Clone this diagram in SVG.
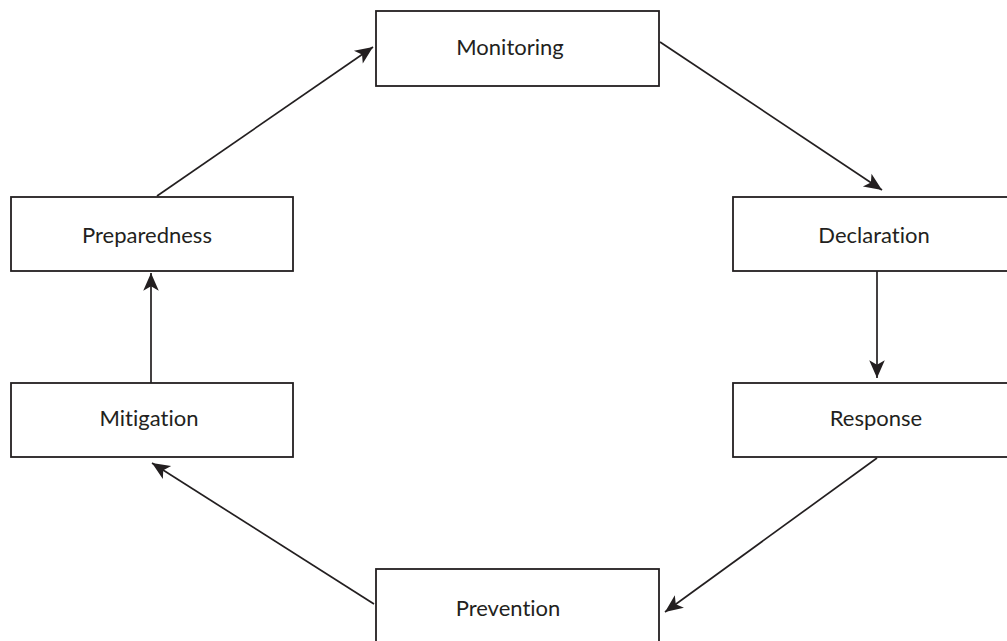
<svg xmlns="http://www.w3.org/2000/svg" width="1007" height="641" viewBox="0 0 1007 641">
<style>
.box{fill:#fff;stroke:#231f20;stroke-width:1.8}
.lbl{font-family:Lato,"Open Sans",sans-serif;font-size:22px;fill:#231f20;text-anchor:middle;font-variant-ligatures:none;font-feature-settings:"liga" 0,"dlig" 0}
.con{stroke:#231f20;stroke-width:1.7;fill:none;marker-end:url(#ah)}
</style>
<defs>
<marker id="ah" markerUnits="userSpaceOnUse" markerWidth="20" markerHeight="20" viewBox="-17 -8 18 16" refX="0" refY="0" orient="auto">
<path d="M0,0 L-16,-7 L-12,0 L-16,7 Z" fill="#231f20"/>
</marker>
</defs>
<rect width="1007" height="641" fill="#fff"/>
<g id="connectors">
<line class="con" x1="157" y1="196" x2="373" y2="47"/>
<line class="con" x1="660" y1="42" x2="882" y2="190"/>
<line class="con" x1="877" y1="271" x2="877" y2="378"/>
<line class="con" x1="877" y1="458" x2="665" y2="612"/>
<line class="con" x1="374" y1="604" x2="152" y2="463"/>
<line class="con" x1="151" y1="383" x2="151" y2="273"/>
</g>
<g id="monitoring">
<rect class="box" x="376" y="11" width="283" height="75"/>
<text class="lbl" x="510" y="55">Monitoring</text>
</g>
<g id="declaration">
<rect class="box" x="733" y="197" width="283" height="74"/>
<text class="lbl" x="874" y="243">Declaration</text>
</g>
<g id="response">
<rect class="box" x="733" y="383" width="283" height="74"/>
<text class="lbl" x="876" y="426">Response</text>
</g>
<g id="prevention">
<rect class="box" x="376" y="569" width="283" height="80"/>
<text class="lbl" x="508" y="616">Prevention</text>
</g>
<g id="mitigation">
<rect class="box" x="11" y="383" width="282" height="74"/>
<text class="lbl" x="149" y="426">Mitigation</text>
</g>
<g id="preparedness">
<rect class="box" x="11" y="197" width="282" height="74"/>
<text class="lbl" x="147" y="243">Preparedness</text>
</g>
</svg>
